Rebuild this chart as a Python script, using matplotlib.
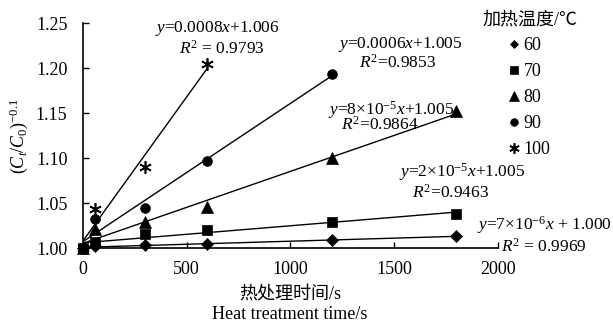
import numpy as np
import matplotlib.pyplot as plt
from matplotlib.lines import Line2D

plt.rcParams['font.family'] = ['Liberation Serif', 'Noto Sans CJK SC']
plt.rcParams['mathtext.fontset'] = 'custom'
plt.rcParams['mathtext.rm'] = 'Liberation Serif'
plt.rcParams['mathtext.it'] = 'Liberation Serif:italic'

# dados
tempo = [0, 60, 300, 600, 1200, 1800]
temperaturas = ['60', '70', '80', '90', '100']
y60 = [1.000, 1.002, 1.003, 1.005, 1.009, 1.013]
y70 = [1.000, 1.007, 1.016, 1.020, 1.029, 1.038]
y80 = [1.000, 1.021, 1.029, 1.046, 1.100, 1.152]
y90 = [1.000, 1.032, 1.044, 1.097, 1.194]
y100 = [1.000, 1.043, 1.090, 1.205]
equacoes = [
    (r'$y$=7×10$^{-6}$$x$ + 1.000', r'$R^2$ = 0.9969'),
    (r'$y$=2×10$^{-5}$$x$+1.005', r'$R^2$=0.9463'),
    (r'$y$=8×10$^{-5}$$x$+1.005', r'$R^2$=0.9864'),
    (r'$y$=0.0006$x$+1.005', r'$R^2$=0.9853'),
    (r'$y$=0.0008$x$+1.006', r'$R^2$ = 0.9793'),
]

series = [y60, y70, y80, y90, y100]
marcadores = ['D', 's', '^', 'o', (6, 2, 0)]
tamanhos = [6, 7, 8, 7, 9]
# posição dos textos (x, y da equação; x, y do R²)
pos_eq = [(2225, 1.026, 2222, 1.001),
          (1826, 1.084, 1773, 1.062),
          (1488, 1.153, 1430, 1.137),
          (1531, 1.226, 1517, 1.206),
          (647, 1.244, 672, 1.222)]

fig = plt.figure(figsize=(6.13, 3.26), dpi=100)
ax = fig.add_axes([0.135, 0.239, 0.677, 0.690])

handles = []
for ys, m, ms, lab, (eq, r2), (ex, ey, rx, ry) in zip(series, marcadores, tamanhos,
                                                     temperaturas, equacoes, pos_eq):
    xs = tempo[:len(ys)]
    a, b = np.polyfit(xs, ys, 1)
    xl = np.array([0, xs[-1]])
    ax.plot(xl, a * xl + b, color='black', linewidth=1, zorder=2)
    ax.plot(xs, ys, linestyle='none', marker=m, markersize=ms, color='black',
            markeredgecolor='black', markeredgewidth=1.2 if m == (6, 2, 0) else 0.5,
            zorder=3, clip_on=False)
    ax.text(ex, ey, eq, ha='center', va='center', fontsize=12.5, clip_on=False)
    ax.text(rx, ry, r2, ha='center', va='center', fontsize=12.5, clip_on=False)
    handles.append(Line2D([], [], linestyle='none', marker=m, color='black',
                          markersize=ms - 1.5,
                          markeredgewidth=1.2 if m == (6, 2, 0) else 0.5,
                          label=lab))

ax.set_xlim(0, 2000)
ax.set_ylim(1.0, 1.25)
ax.set_xticks([0, 500, 1000, 1500, 2000])
ax.set_yticks([1.00, 1.05, 1.10, 1.15, 1.20, 1.25])
ax.set_yticklabels(['1.00', '1.05', '1.10', '1.15', '1.20', '1.25'])
ax.tick_params(direction='in', length=4, labelsize=13, width=1)
ax.tick_params(axis='x', pad=9)
ax.tick_params(axis='y', pad=11)
ax.spines['top'].set_visible(False)
ax.spines['right'].set_visible(False)
ax.spines['left'].set_linewidth(1.2)
ax.spines['bottom'].set_linewidth(1.2)

ax.set_ylabel(r'$(C_t/C_0)^{-0.1}$', fontsize=13, labelpad=4)
fig.text(0.473, 0.095, '热处理时间/s', ha='center', va='center', fontsize=13)
fig.text(0.473, 0.034, 'Heat treatment time/s', ha='center', va='center', fontsize=13)

leg = fig.legend(handles=handles, loc='upper left', bbox_to_anchor=(0.76, 1.015),
                 frameon=False, title='加热温度/℃', fontsize=13,
                 title_fontsize=13, handlelength=0.6, handletextpad=0.2,
                 labelspacing=0.5)
leg._legend_box.align = 'center'

fig.savefig('out.png', dpi=100)
